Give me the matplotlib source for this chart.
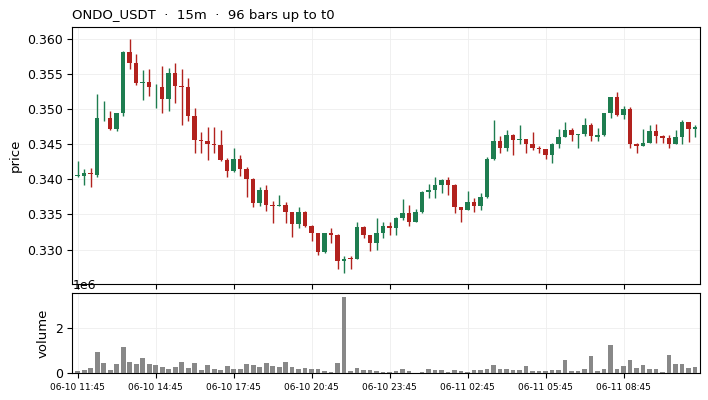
import numpy as np
import pandas as pd
import matplotlib
matplotlib.use("Agg")
import matplotlib.pyplot as plt

# ONDO_USDT 15m candles
opens = [0.3405, 0.3405, 0.3409, 0.3406, 0.3487, 0.3488, 0.3472, 0.3495, 0.3582, 0.3565,
         0.3537, 0.3538, 0.3531, 0.3531, 0.3514, 0.3552, 0.3533, 0.3531, 0.3490, 0.3456,
         0.3455, 0.3450, 0.3449, 0.3427, 0.3412, 0.3429, 0.3415, 0.3401, 0.3366, 0.3385,
         0.3364, 0.3362, 0.3363, 0.3354, 0.3336, 0.3353, 0.3333, 0.3323, 0.3296, 0.3323,
         0.3321, 0.3283, 0.3288, 0.3287, 0.3332, 0.3320, 0.3310, 0.3323, 0.3334, 0.3330,
         0.3345, 0.3352, 0.3339, 0.3354, 0.3382, 0.3385, 0.3392, 0.3399, 0.3392, 0.3360,
         0.3357, 0.3368, 0.3362, 0.3375, 0.3429, 0.3454, 0.3445, 0.3463, 0.3456, 0.3457,
         0.3450, 0.3444, 0.3443, 0.3435, 0.3450, 0.3460, 0.3470, 0.3463, 0.3465, 0.3477,
         0.3460, 0.3463, 0.3494, 0.3517, 0.3491, 0.3500, 0.3450, 0.3448, 0.3452, 0.3469,
         0.3462, 0.3459, 0.3450, 0.3460, 0.3482, 0.3472]
highs = [0.3426, 0.3414, 0.3416, 0.3521, 0.3512, 0.3497, 0.3494, 0.3583, 0.3600, 0.3579,
         0.3556, 0.3557, 0.3536, 0.3562, 0.3559, 0.3565, 0.3557, 0.3544, 0.3501, 0.3468,
         0.3475, 0.3474, 0.3470, 0.3430, 0.3445, 0.3435, 0.3418, 0.3402, 0.3389, 0.3392,
         0.3369, 0.3377, 0.3368, 0.3354, 0.3360, 0.3355, 0.3335, 0.3324, 0.3324, 0.3331,
         0.3322, 0.3291, 0.3291, 0.3339, 0.3333, 0.3320, 0.3345, 0.3339, 0.3339, 0.3346,
         0.3372, 0.3363, 0.3358, 0.3384, 0.3394, 0.3404, 0.3400, 0.3403, 0.3394, 0.3360,
         0.3383, 0.3373, 0.3380, 0.3432, 0.3484, 0.3462, 0.3470, 0.3464, 0.3478, 0.3457,
         0.3467, 0.3448, 0.3443, 0.3452, 0.3472, 0.3481, 0.3473, 0.3465, 0.3487, 0.3480,
         0.3473, 0.3494, 0.3517, 0.3525, 0.3504, 0.3503, 0.3452, 0.3471, 0.3477, 0.3479,
         0.3463, 0.3463, 0.3470, 0.3484, 0.3482, 0.3477]
lows = [0.3404, 0.3392, 0.3389, 0.3404, 0.3483, 0.3470, 0.3469, 0.3490, 0.3557, 0.3534,
        0.3513, 0.3519, 0.3502, 0.3495, 0.3497, 0.3509, 0.3478, 0.3483, 0.3437, 0.3438,
        0.3427, 0.3438, 0.3426, 0.3404, 0.3410, 0.3405, 0.3375, 0.3360, 0.3362, 0.3355,
        0.3338, 0.3362, 0.3338, 0.3318, 0.3330, 0.3332, 0.3312, 0.3292, 0.3295, 0.3310,
        0.3272, 0.3267, 0.3272, 0.3286, 0.3317, 0.3298, 0.3299, 0.3316, 0.3320, 0.3320,
        0.3342, 0.3334, 0.3339, 0.3352, 0.3373, 0.3373, 0.3380, 0.3377, 0.3352, 0.3339,
        0.3356, 0.3353, 0.3357, 0.3374, 0.3427, 0.3438, 0.3441, 0.3435, 0.3450, 0.3437,
        0.3442, 0.3437, 0.3429, 0.3423, 0.3445, 0.3460, 0.3455, 0.3445, 0.3462, 0.3455,
        0.3455, 0.3461, 0.3487, 0.3490, 0.3486, 0.3444, 0.3437, 0.3448, 0.3452, 0.3452,
        0.3452, 0.3445, 0.3450, 0.3450, 0.3453, 0.3460]
closes = [0.3406, 0.3409, 0.3407, 0.3487, 0.3488, 0.3471, 0.3494, 0.3582, 0.3566, 0.3537,
          0.3538, 0.3531, 0.3532, 0.3514, 0.3552, 0.3533, 0.3532, 0.3490, 0.3456, 0.3455,
          0.3450, 0.3449, 0.3427, 0.3412, 0.3429, 0.3415, 0.3401, 0.3366, 0.3385, 0.3364,
          0.3362, 0.3363, 0.3354, 0.3336, 0.3353, 0.3333, 0.3323, 0.3296, 0.3323, 0.3321,
          0.3283, 0.3287, 0.3287, 0.3332, 0.3320, 0.3310, 0.3323, 0.3334, 0.3330, 0.3345,
          0.3352, 0.3339, 0.3354, 0.3382, 0.3385, 0.3392, 0.3399, 0.3392, 0.3360, 0.3357,
          0.3368, 0.3362, 0.3375, 0.3429, 0.3454, 0.3445, 0.3463, 0.3456, 0.3457, 0.3451,
          0.3444, 0.3443, 0.3435, 0.3450, 0.3460, 0.3470, 0.3463, 0.3465, 0.3477, 0.3461,
          0.3463, 0.3494, 0.3517, 0.3491, 0.3500, 0.3450, 0.3448, 0.3452, 0.3469, 0.3462,
          0.3459, 0.3450, 0.3460, 0.3482, 0.3471, 0.3474]
volumes_m = [0.10, 0.145, 0.23, 0.93, 0.45, 0.145, 0.41, 1.14, 0.49, 0.41,
             0.67, 0.41, 0.36, 0.28, 0.19, 0.28, 0.49, 0.23, 0.45, 0.145,
             0.36, 0.19, 0.145, 0.32, 0.19, 0.19, 0.41, 0.36, 0.28, 0.45,
             0.32, 0.28, 0.49, 0.28, 0.19, 0.23, 0.19, 0.19, 0.10, 0.06,
             0.45, 3.36, 0.10, 0.23, 0.145, 0.145, 0.10, 0.06, 0.06, 0.10,
             0.19, 0.10, 0.01, 0.06, 0.19, 0.145, 0.145, 0.06, 0.145, 0.10,
             0.06, 0.145, 0.145, 0.19, 0.36, 0.19, 0.19, 0.145, 0.145, 0.32,
             0.10, 0.10, 0.10, 0.145, 0.145, 0.58, 0.10, 0.10, 0.19, 0.75,
             0.10, 0.19, 1.23, 0.19, 0.32, 0.58, 0.23, 0.36, 0.19, 0.19,
             0.06, 0.80, 0.41, 0.41, 0.23, 0.28]

start_time = "2024-06-10 11:45"
tick_every = 12

UP = "#1e7d50"
DOWN = "#b2221e"

o = np.array(opens)
h = np.array(highs)
l = np.array(lows)
c = np.array(closes)
vol = np.array(volumes_m) * 1e6
n = len(o)
x = np.arange(n)
times = pd.date_range(start_time, periods=n, freq="15min")
colors = np.where(c >= o, UP, DOWN)

fig = plt.figure(figsize=(7.08, 4.0), dpi=100)
ax = fig.add_axes([0.1024, 0.289, 0.8867, 0.643])
axv = fig.add_axes([0.1024, 0.0668, 0.8867, 0.2], sharex=ax)

ax.vlines(x, l, h, colors=colors, linewidth=1.0, zorder=2)
body = np.maximum(np.abs(c - o), 0.00008)
ax.bar(x, body, bottom=np.minimum(o, c), width=0.7, color=colors, zorder=3)
ax.set_ylabel("price", fontsize=9.5)
ax.set_title("ONDO_USDT  ·  15m  ·  96 bars up to t0", loc="left", fontsize=9.5)
ax.tick_params(labelbottom=False, labelsize=9)
ax.grid(True, color="#eeeeee", linewidth=0.6)
ax.set_axisbelow(True)

axv.bar(x, vol, width=0.72, color="#888888", zorder=3)
axv.set_ylabel("volume", fontsize=9.5)
axv.grid(True, color="#eeeeee", linewidth=0.6)
axv.set_axisbelow(True)
axv.tick_params(axis="y", labelsize=9)
axv.yaxis.get_offset_text().set_fontsize(9)

ticks = x[::tick_every]
axv.set_xticks(ticks)
axv.set_xticklabels(times[::tick_every].strftime("%m-%d %H:%M"), fontsize=6.5)
axv.set_xlim(-0.8, n - 0.2)

fig.savefig("out.png", dpi=100)
